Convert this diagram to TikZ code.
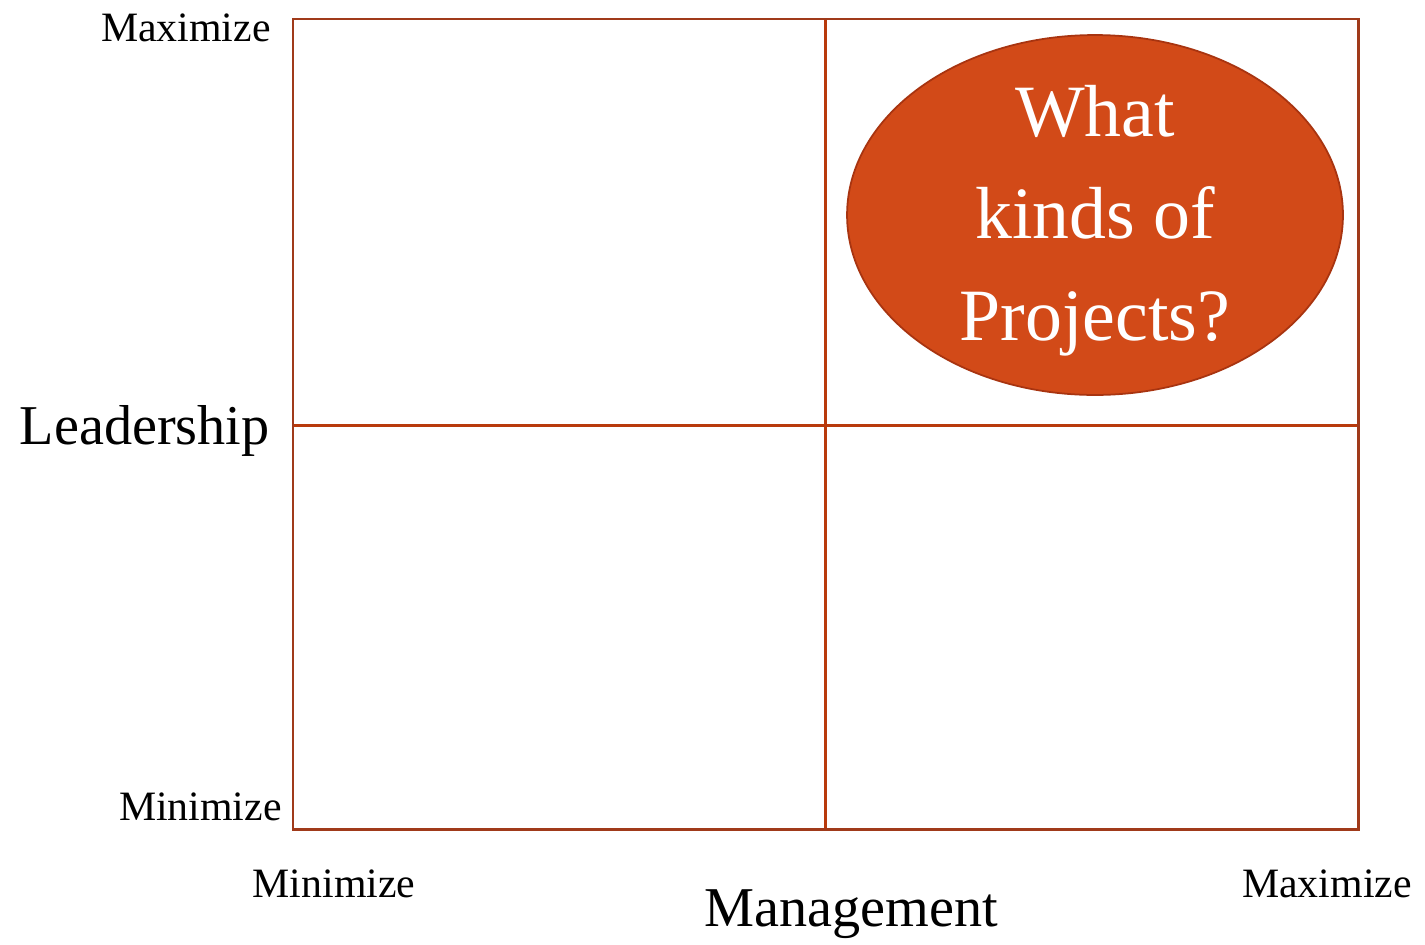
\documentclass[tikz,border=0pt]{standalone}
\usepackage{fontspec}
\setmainfont{Liberation Serif}
\usetikzlibrary{shapes.geometric, positioning}
\definecolor{gridred}{RGB}{184,58,12}
\definecolor{framered}{RGB}{160,58,26}
\definecolor{bubblefill}{RGB}{210,74,24}
\definecolor{bubbleedge}{RGB}{168,52,16}
\tikzset{
	axislabel/.style={inner sep=0pt, font=\fontsize{32}{38}\selectfont},
	ticklabel/.style={inner sep=0pt, font=\fontsize{23.8}{28}\selectfont},
	gridline/.style={gridred, line width=1.7pt},
	bubble/.style={ellipse, draw=bubbleedge, fill=bubblefill, line width=1pt,
		minimum width=9.92cm, minimum height=7.2cm, inner sep=0pt},
	bubbletext/.style={inner sep=0pt, text=white, align=center,
		font=\fontsize{42}{58}\selectfont}
}

\begin{document}
\begin{tikzpicture}[x=0.02cm, y=-0.02cm]
	\useasboundingbox (0,0) rectangle (1425,944);

	% quadrants
	\draw[gridline] (825,19) -- (825,829);
	\draw[gridline] (293,425) -- (1358,425);
	\draw[framered, line width=1.7pt] (293,19) rectangle (1358,829);

	\node (bubble) [bubble] at (1095,215) {};
	\node (question) [bubbletext] at (1095,221) {What\\kinds of\\Projects?};

	% vertical axis
	\node (ymax) [ticklabel, anchor=base east] at (271,41) {Maximize};
	\node (lead) [axislabel, anchor=base east] at (270,444) {Leadership};
	\node (ymin) [ticklabel, anchor=base east] at (282,820) {Minimize};

	% horizontal axis
	\node (xmin) [ticklabel, anchor=base] at (334,897) {Minimize};
	\node (mgmt) [axislabel, anchor=base] at (851,926) {Management};
	\node (xmax) [ticklabel, anchor=base] at (1327,897) {Maximize};
\end{tikzpicture}
\end{document}
